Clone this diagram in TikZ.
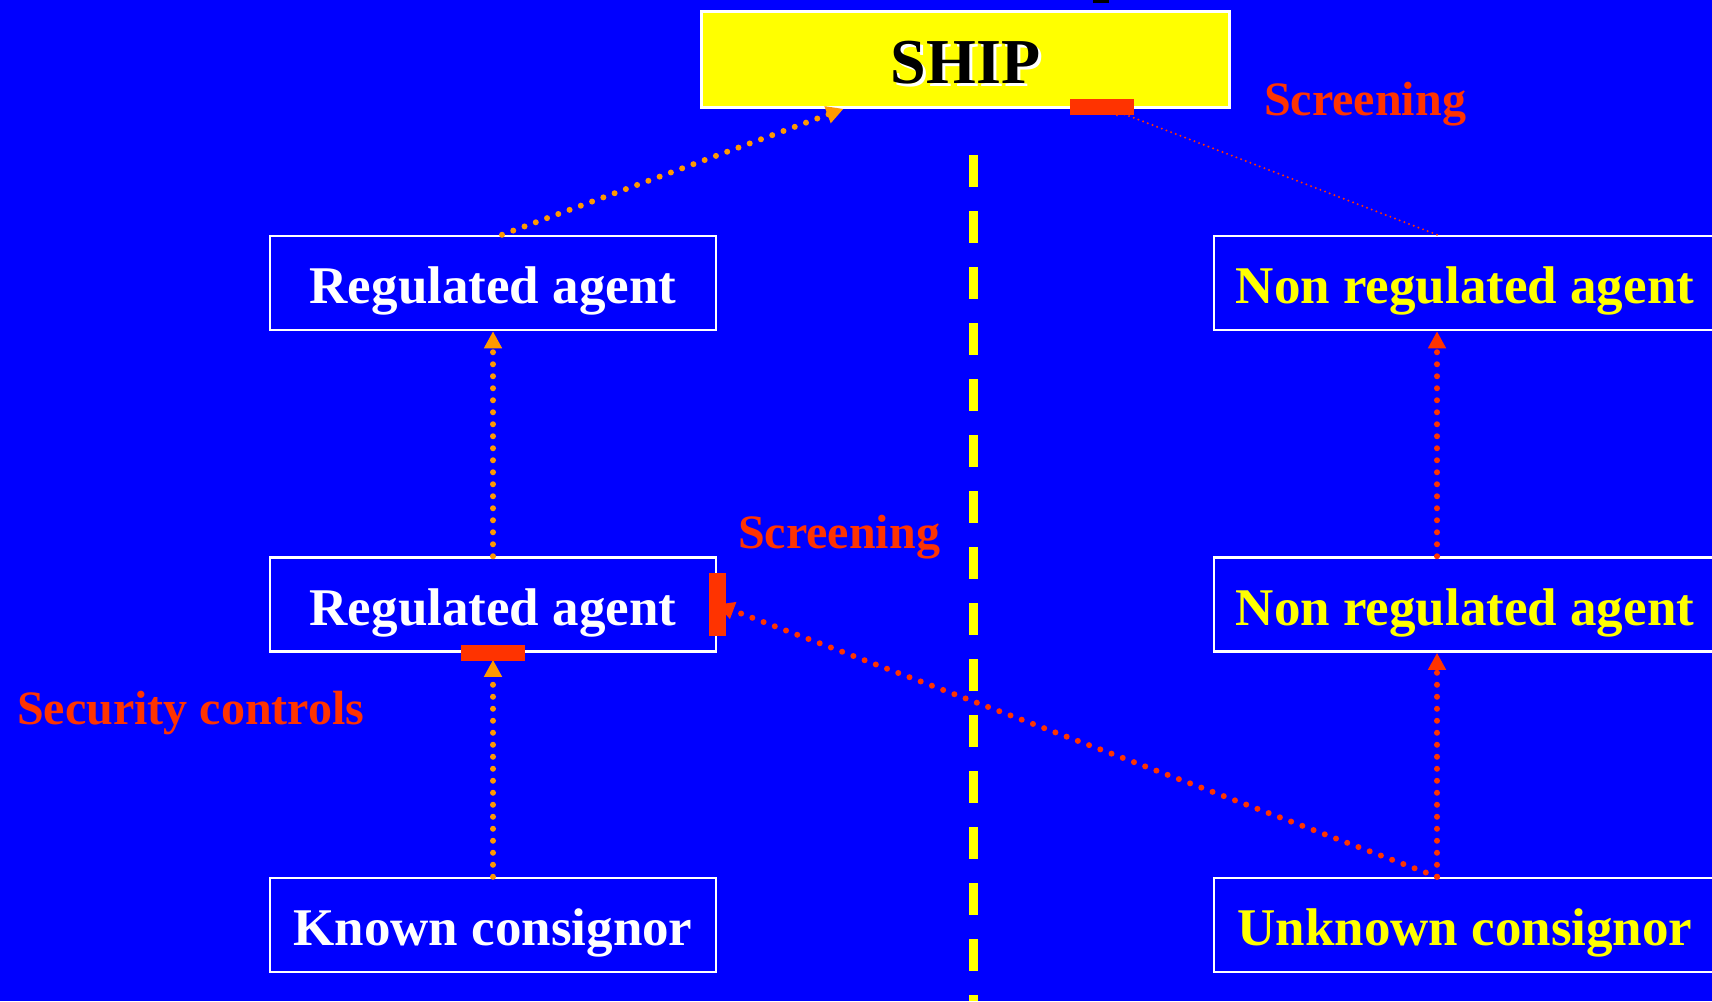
\documentclass[tikz,border=0pt]{standalone}
\usepackage{fontspec}
\setmainfont{Liberation Serif}
\usetikzlibrary{arrows.meta,positioning}
\definecolor{bgblue}{HTML}{0000FF}
\definecolor{shipyellow}{HTML}{FFFF00}
\definecolor{orng}{HTML}{FF9900}
\definecolor{scrred}{HTML}{FF3300}

\begin{document}
\begin{tikzpicture}[x=1pt,y=-1pt,
  agent/.style={draw=white,line width=2.5pt,fill=bgblue,minimum width=446pt,minimum height=94pt,inner sep=0pt,
    text height=41pt,text depth=0pt,font=\fontsize{53}{60}\selectfont\bfseries,text=white},
  nagent/.style={agent,minimum width=502pt,text=shipyellow},
  shipbox/.style={draw=white,line width=2.7pt,fill=shipyellow,minimum width=528pt,minimum height=96pt},
  shiptxt/.style={inner sep=0pt,text height=47pt,text depth=0pt,font=\fontsize{64}{70}\selectfont\bfseries},
  cut/.style={fill=scrred,inner sep=0pt},
  lbl/.style={anchor=base west,inner sep=0pt,text=scrred,font=\fontsize{48}{54}\selectfont\bfseries},
  odot/.style={draw=orng,line width=6pt,line cap=round,dash pattern=on 0pt off 12pt,-{Triangle[width=17pt,length=17pt]}},
  rdot/.style={odot,draw=scrred},
  fdot/.style={draw=scrred,line width=2.2pt,line cap=round,dash pattern=on 0pt off 5pt,-{Triangle[width=9pt,length=9pt]}}]
\useasboundingbox (0,0) rectangle (1712,1001);
\clip (0,0) rectangle (1712,1001);
\fill[bgblue] (0,0) rectangle (1712,1001);
\fill[black] (1093,0) rectangle (1109,2.5);
% dividing line
\draw[shipyellow,line width=9pt,dash pattern=on 32pt off 24pt] (973,155) -- (973,1001);
\node[shipbox] (ship) at (965.5,59.5) {};
\node[shiptxt,white] at ([shift={(3,3)}]ship.center) {SHIP};
\node[shiptxt] at (ship.center) {SHIP};
% left column
\node[agent] (ra1) at (493,283) {Regulated agent};
\node[agent,below=225pt of ra1] (ra2) {Regulated agent};
\node[agent,below=224pt of ra2] (kc) {Known consignor};
% right column
\node[nagent] (nr1) at (1465,283) {Non regulated agent};
\node[nagent,below=225pt of nr1] (nr2) {Non regulated agent};
\node[nagent,below=224pt of nr2] (uc) {Unknown consignor};
\coordinate (colr) at (1437,0);
% flows
\draw[odot] ([xshift=9]ra1.north) -- ([xshift=-122]ship.south);
\draw[odot] (ra2.north) -- (ra1.south);
\draw[odot,shorten >=7pt] (kc.north) -- (ra2.south);
\draw[rdot] (colr |- uc.north) -- (colr |- nr2.south);
\draw[rdot] (colr |- nr2.north) -- (colr |- nr1.south);
\draw[rdot] (colr |- uc.north) -- (ra2.east);
\draw[fdot] (colr |- nr1.north) -- ([xshift=145]ship.south);
% screening points
\node[cut,minimum width=64pt,minimum height=16pt] (cs) at ([xshift=136,yshift=2]ship.south) {};
\node[cut,minimum width=17pt,minimum height=63pt] (cr) at (ra2.east) {};
\node[cut,minimum width=64pt,minimum height=16pt] (cb) at (ra2.south) {};
\node[lbl] (scr1) at (1264,115) {Screening};
\node[lbl] (scr2) at (738,548) {Screening};
\node[lbl] (sec) at (17,724) {Security controls};
\end{tikzpicture}
\end{document}
